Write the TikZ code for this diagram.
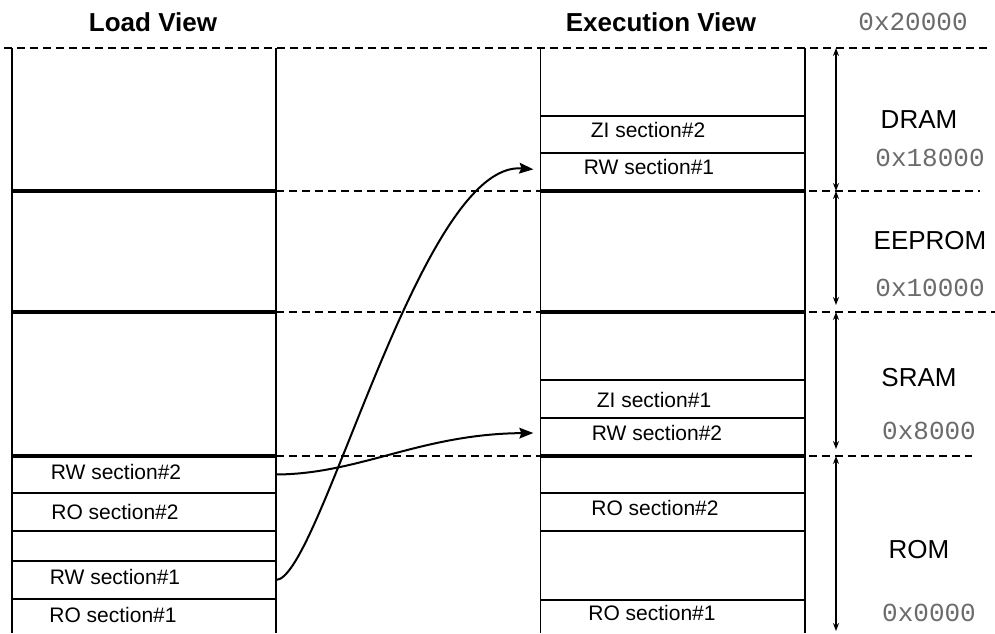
\documentclass[tikz,border=0pt]{standalone}
\usepackage{fontspec}
\setmainfont{Liberation Sans}
\newfontfamily\hexfont{Liberation Mono}
\usetikzlibrary{arrows.meta,fit}

\tikzset{
  sec/.style={inner sep=0pt, outer sep=0pt, draw=none},
  lbl/.style={inner sep=0pt, font=\fontsize{15.75}{18}\selectfont},
  title/.style={inner sep=0pt, font=\fontsize{19.5}{22}\selectfont\bfseries},
  region/.style={inner sep=0pt, font=\fontsize{19.5}{22}\selectfont},
  addr/.style={inner sep=0pt, text=black!58, font=\fontsize{19.5}{22}\selectfont\hexfont},
  side/.style={line width=1pt},
  thin/.style={line width=1pt},
  thick/.style={line width=3.2pt},
  mid/.style={line width=1.6pt},
  guide/.style={line width=0.8pt, dash pattern=on 6pt off 3.75pt},
  span/.style={line width=0.8pt, {Stealth[length=6pt,width=4.5pt]}-{Stealth[length=6pt,width=4.5pt]}},
  conn/.style={line width=1.5pt, -{Stealth[length=10.5pt,width=8pt,inset=1.5pt]}},
}

\begin{document}
\begin{tikzpicture}[x=0.75pt,y=-0.75pt]
\useasboundingbox (0,0) rectangle (995,633);

% address boundaries
\draw[guide] (4,48) -- (988,48);
\draw[guide] (276,191) -- (980,191);
\draw[guide] (276,312) -- (995,312);
\draw[guide] (276,456) -- (972,456);

% column sides
\draw[side] (12,48) -- (12,633);
\draw[side] (276,48) -- (276,633);
\draw[side] (540.7,48) -- (540.7,633);
\draw[side] (805,48) -- (805,633);

% region boundaries in both columns
\foreach \yy in {191,312,456} {
  \draw[thick] (12,\yy) -- (276,\yy);
  \draw[thick] (540.7,\yy) -- (805,\yy);
}

% load view section dividers
\draw[thin] (12,493) -- (276,493);
\draw[thin] (12,531) -- (276,531);
\draw[thin] (12,561) -- (276,561);
\draw[mid] (12,599) -- (276,599);

% execution view section dividers
\foreach \yy in {116,153,380,418,493,531,600}
  \draw[thin] (540.7,\yy) -- (805,\yy);

% section areas
\node[sec, fit={(12,456)(276,493)}] (lrw2) {};
\node[sec, fit={(12,493)(276,531)}] (lro2) {};
\node[sec, fit={(12,561)(276,599)}] (lrw1) {};
\node[sec, fit={(12,599)(276,633)}] (lro1) {};
\node[sec, fit={(540.7,116)(805,153)}] (ezi2) {};
\node[sec, fit={(540.7,153)(805,191)}] (erw1) {};
\node[sec, fit={(540.7,380)(805,418)}] (ezi1) {};
\node[sec, fit={(540.7,418)(805,456)}] (erw2) {};
\node[sec, fit={(540.7,493)(805,531)}] (ero2) {};
\node[sec, fit={(540.7,600)(805,633)}] (ero1) {};

% section names
\node[lbl] (tlrw2) at (116,472) {RW section\#2};
\node[lbl] (tlro2) at (115,512) {RO section\#2};
\node[lbl] (tlrw1) at (115,577) {RW section\#1};
\node[lbl] (tlro1) at (113,615) {RO section\#1};
\node[lbl] (tezi2) at (648,130) {ZI section\#2};
\node[lbl] (terw1) at (649,167) {RW section\#1};
\node[lbl] (tezi1) at (654,400) {ZI section\#1};
\node[lbl] (terw2) at (657,433) {RW section\#2};
\node[lbl] (tero2) at (655,508) {RO section\#2};
\node[lbl] (tero1) at (652,613) {RO section\#1};

% headings
\node[title] (hload) at (153,22) {Load View};
\node[title] (hexec) at (661,22) {Execution View};

% memory regions
\node[region] (rdram) at (919,120) {DRAM};
\node[region] (reeprom) at (930,241) {EEPROM};
\node[region] (rsram) at (919,378) {SRAM};
\node[region] (rrom) at (919,550) {ROM};

% addresses
\node[addr] (a20) at (913,22) {0x20000};
\node[addr] (a18) at (930,158) {0x18000};
\node[addr] (a10) at (930,288) {0x10000};
\node[addr] (a08) at (929,431) {0x8000};
\node[addr] (a00) at (929,613) {0x0000};

% region extents
\coordinate (d0) at (836,48);
\coordinate (d1) at (836,191);
\coordinate (e0) at (836,191);
\coordinate (e1) at (836,305);
\coordinate (s0) at (836,312);
\coordinate (s1) at (836,449);
\coordinate (r0) at (836,456);
\coordinate (r1) at (836,631);
\draw[span] (d0) -- (d1);
\draw[span] (e0) -- (e1);
\draw[span] (s0) -- (s1);
\draw[span] (r0) -- (r1);

% copying RW sections from load to execution addresses
\draw[conn] (lrw1.east) .. controls (320,579) and (420,160) .. ([xshift=-5.5pt,yshift=2pt]erw1.west);
\draw[conn] (lrw2.east) .. controls (360,474) and (420,434) .. ([xshift=-5.5pt,yshift=3pt]erw2.west);
\end{tikzpicture}
\end{document}
